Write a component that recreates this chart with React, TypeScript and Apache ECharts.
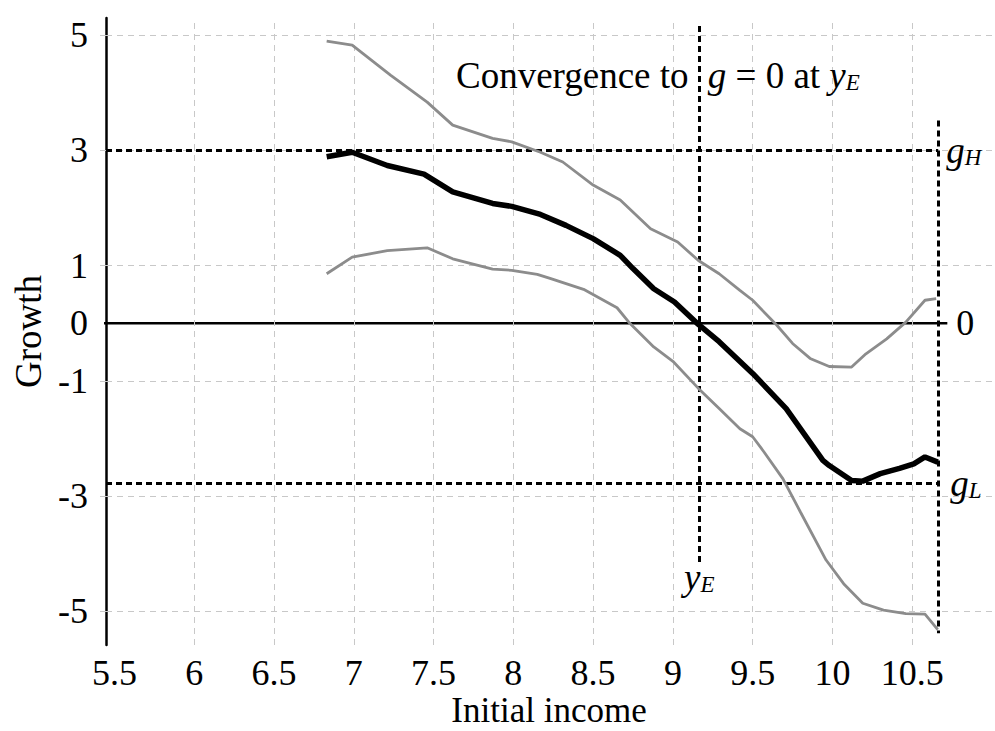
import React, { useEffect, useRef } from "react";
import * as echarts from "echarts";

// ---- Data ----
const upperX = [6.83, 6.99, 7.23, 7.46, 7.62, 7.87, 7.99, 8.17, 8.31, 8.5, 8.67, 8.86, 9.03, 9.16, 9.29, 9.42, 9.5, 9.65, 9.75, 9.86, 9.98, 10.12, 10.21, 10.34, 10.46, 10.58, 10.65];
const upperY = [4.9, 4.83, 4.31, 3.84, 3.44, 3.21, 3.15, 2.97, 2.8, 2.4, 2.14, 1.64, 1.41, 1.09, 0.86, 0.57, 0.4, -0.03, -0.35, -0.61, -0.75, -0.76, -0.53, -0.27, 0.02, 0.4, 0.43];

const meanX = [6.83, 6.99, 7.21, 7.44, 7.62, 7.87, 7.99, 8.17, 8.33, 8.5, 8.67, 8.75, 8.88, 9.01, 9.16, 9.29, 9.5, 9.71, 9.82, 9.94, 9.98, 10.12, 10.19, 10.3, 10.42, 10.51, 10.58, 10.66];
const meanY = [2.89, 2.97, 2.74, 2.59, 2.28, 2.08, 2.03, 1.89, 1.7, 1.47, 1.18, 0.95, 0.6, 0.37, -0.02, -0.32, -0.87, -1.48, -1.91, -2.38, -2.47, -2.73, -2.74, -2.61, -2.52, -2.44, -2.32, -2.41];

const lowerX = [6.83, 6.99, 7.21, 7.46, 7.62, 7.87, 7.99, 8.15, 8.23, 8.44, 8.65, 8.73, 8.88, 9.0, 9.16, 9.29, 9.42, 9.5, 9.57, 9.69, 9.8, 9.96, 10.07, 10.19, 10.32, 10.46, 10.58, 10.66];
const lowerY = [0.86, 1.15, 1.26, 1.31, 1.12, 0.94, 0.92, 0.85, 0.78, 0.59, 0.27, 0.0, -0.41, -0.66, -1.13, -1.48, -1.83, -1.97, -2.23, -2.7, -3.28, -4.11, -4.52, -4.86, -4.98, -5.04, -5.05, -5.32];

const xTickLabels = [5.5, 6, 6.5, 7, 7.5, 8, 8.5, 9, 9.5, 10, 10.5];
const xGridValues = [6, 6.5, 7, 7.5, 8, 8.5, 9, 9.5, 10, 10.5];
const yTickLabels = [5, 3, 1, 0, -1, -3, -5];
const yGridValues = [5, 3, 1, -1, -3, -5];

const X_MIN = 5.447;
const X_MAX = 11.0;
const Y_MIN = -5.585;
const Y_MAX = 5.3;

const gHigh = 3;
const gLow = -2.78;
const yE = 9.165;
const yETop = 5.16;
const yEBottom = -4.2;
const incomeEnd = 10.663;
const incomeEndTop = 3.52;
const incomeEndBottom = -5.38;
const zeroLineStart = 5.41;
const zeroLineEnd = 10.72;

const FONT = "'Liberation Serif', 'Times New Roman', serif";

const pairs = (xs: number[], ys: number[]) => xs.map((x, i) => [x, ys[i]]);

export default function App() {
  const ref = useRef<HTMLDivElement>(null);

  useEffect(() => {
    if (!ref.current) return;
    const chart = echarts.init(ref.current, undefined, { renderer: "svg" });

    const dashedBlack = { color: "#000", width: 3, type: [6, 4] as any };
    const subRich = {
      i: { fontFamily: FONT, fontStyle: "italic", fontSize: 37, color: "#000" },
      s: { fontFamily: FONT, fontStyle: "italic", fontSize: 23, color: "#000", padding: [14, 0, 0, 0] },
    };

    const option: any = {
      animation: false,
      backgroundColor: "#fff",
      grid: { left: 106, right: 3, top: 18, bottom: 86, containLabel: false, outerBoundsMode: "none" },
      xAxis: {
        type: "value",
        min: X_MIN,
        max: X_MAX,
        axisLine: { show: false, onZero: false },
        axisTick: { show: false },
        splitLine: { show: false },
        axisLabel: {
          customValues: xTickLabels,
          fontFamily: FONT,
          fontSize: 36,
          color: "#000",
          margin: 10,
        },
        name: "Initial income",
        nameLocation: "middle",
        nameGap: 48,
        nameMoveOverlap: false,
        nameTextStyle: { fontFamily: FONT, fontSize: 35, lineHeight: 35, color: "#000" },
      },
      yAxis: {
        type: "value",
        min: Y_MIN,
        max: Y_MAX,
        axisLine: { show: true, onZero: false, lineStyle: { color: "#000", width: 2.5 } },
        axisTick: {
          show: true,
          customValues: yGridValues,
          length: 10,
          lineStyle: { color: "#c8c8c8", width: 1, type: [6, 5] },
        },
        splitLine: { show: false },
        axisLabel: {
          customValues: yTickLabels,
          fontFamily: FONT,
          fontSize: 36,
          color: "#000",
          margin: 18,
        },
        name: "Growth",
        nameLocation: "middle",
        nameGap: 57,
        nameTextStyle: { fontFamily: FONT, fontSize: 37, color: "#000" },
      },
      graphic: [
        {
          type: "text",
          left: 456,
          top: 57,
          z: 10,
          style: {
            text: "{n|Convergence to }{g|g}{n| = 0 at }{i|y}{s|E}",
            rich: {
              n: { fontFamily: FONT, fontSize: 37, color: "#000" },
              g: { fontFamily: FONT, fontStyle: "italic", fontSize: 37, color: "#000", padding: [0, 0, 0, 10] },
              ...subRich,
            },
          },
        },
      ],
      series: [
        {
          name: "grid",
          type: "line",
          data: [],
          z: 1,
          silent: true,
          markLine: {
            silent: true,
            symbol: ["none", "none"],
            label: { show: false },
            lineStyle: { color: "#c8c8c8", width: 1, type: [6, 5] },
            data: [
              ...yGridValues.map((v) => ({ yAxis: v })),
              ...xGridValues.map((v) => ({ xAxis: v })),
            ],
          },
        },
        {
          name: "zero",
          type: "line",
          data: [
            [zeroLineStart, 0],
            [zeroLineEnd, 0],
          ],
          clip: false,
          z: 3,
          silent: true,
          symbol: "none",
          lineStyle: { color: "#000", width: 2.5 },
          endLabel: {
            show: true,
            formatter: "0",
            fontFamily: FONT,
            fontSize: 36,
            color: "#000",
            distance: 9,
          },
        },
        {
          name: "refs",
          type: "line",
          data: [],
          z: 4,
          silent: true,
          markLine: {
            silent: true,
            symbol: ["none", "none"],
            lineStyle: dashedBlack,
            data: [
              [
                {
                  coord: [X_MIN, gHigh],
                  label: { show: true, position: "end", distance: 8, formatter: "{i|g}{s|H}", rich: subRich },
                },
                { coord: [incomeEnd, gHigh] },
              ],
              [
                {
                  coord: [X_MIN, gLow],
                  label: { show: true, position: "end", distance: 12, formatter: "{i|g}{s|L}", rich: subRich },
                },
                { coord: [incomeEnd, gLow] },
              ],
              [
                {
                  coord: [yE, yETop],
                  label: { show: true, position: "end", distance: -6, formatter: "{i|y}{s|E}", rich: subRich },
                },
                { coord: [yE, yEBottom] },
              ],
              [
                { coord: [incomeEnd, incomeEndTop], label: { show: false } },
                { coord: [incomeEnd, incomeEndBottom] },
              ],
            ],
          },
        },
        {
          name: "upper",
          type: "line",
          data: pairs(upperX, upperY),
          symbol: "none",
          z: 5,
          lineStyle: { color: "#8c8c8c", width: 2.8 },
        },
        {
          name: "lower",
          type: "line",
          data: pairs(lowerX, lowerY),
          symbol: "none",
          z: 5,
          lineStyle: { color: "#8c8c8c", width: 2.8 },
        },
        {
          name: "growth",
          type: "line",
          data: pairs(meanX, meanY),
          symbol: "none",
          z: 6,
          lineStyle: { color: "#000", width: 5.5 },
        },
      ],
    };

    chart.setOption(option);
    return () => chart.dispose();
  }, []);

  return <div ref={ref} style={{ width: 995, height: 731, position: "absolute", left: 0, top: 0, background: "#fff" }} />;
}
